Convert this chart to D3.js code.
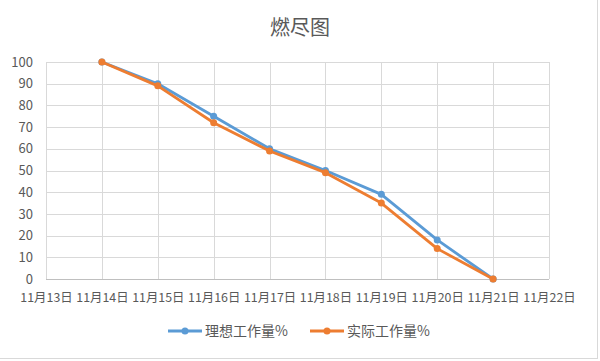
<!DOCTYPE html>
<html><head><meta charset="utf-8">
<script src="https://cdn.jsdelivr.net/npm/d3@7"></script>
<style>body{margin:0;background:#fff;}svg{display:block;}</style>
</head><body>
<svg id="c" width="600" height="361"></svg>
<script>
const title = "燃尽图";
const axisDates = ["11月13日","11月14日","11月15日","11月16日","11月17日","11月18日","11月19日","11月20日","11月21日","11月22日"];
const pointDates = ["11月14日","11月15日","11月16日","11月17日","11月18日","11月19日","11月20日","11月21日"];
const ideal = [100, 90, 75, 60, 50, 39, 18, 0];
const actual = [100, 89, 72, 59, 49, 35, 14, 0];
const yTicks = [0,10,20,30,40,50,60,70,80,90,100];
const seriesNames = ["理想工作量%","实际工作量%"];
const colors = ["#5B9BD5","#ED7D31"];

const svg = d3.select("#c");
const font = "'Noto Sans CJK SC', 'Microsoft YaHei', sans-serif";
const m = {l:46, r:549, t:62, b:279};
const x = d3.scalePoint().domain(axisDates).range([m.l, m.r]);
const y = d3.scaleLinear().domain([0,100]).range([m.b, m.t]);

// outer frame edges
svg.append("line").attr("x1",597.5).attr("x2",597.5).attr("y1",0).attr("y2",359).attr("stroke","#d9d9d9");
svg.append("line").attr("x1",0).attr("x2",598).attr("y1",358.5).attr("y2",358.5).attr("stroke","#d9d9d9");

// title
svg.append("text").attr("x",300).attr("y",35).attr("text-anchor","middle")
  .attr("font-family",font).attr("font-size",20).attr("fill","#595959").text(title);

// horizontal gridlines
const gy = svg.append("g");
yTicks.forEach(t=>{
  if(t===0) return;
  gy.append("line").attr("x1",m.l).attr("x2",m.r).attr("y1",Math.round(y(t))+0.5).attr("y2",Math.round(y(t))+0.5)
    .attr("stroke","#d9d9d9").attr("stroke-width",1);
});
// vertical gridlines
axisDates.forEach(d=>{
  svg.append("line").attr("x1",Math.round(x(d))+0.5).attr("x2",Math.round(x(d))+0.5).attr("y1",m.t).attr("y2",m.b)
    .attr("stroke","#d9d9d9").attr("stroke-width",1);
});
// x axis line
svg.append("line").attr("x1",m.l).attr("x2",m.r).attr("y1",m.b+0.5).attr("y2",m.b+0.5).attr("stroke","#bfbfbf");

// y labels
const yAxis = d3.axisLeft(y).tickValues(yTicks).tickSize(0).tickPadding(0);
const ya = svg.append("g").attr("transform",`translate(${m.l-13},0)`).call(yAxis);
ya.select(".domain").remove();
ya.selectAll("text").attr("font-family",font).attr("font-size",13).attr("fill","#595959").attr("text-anchor","end");

// x labels
const xAxis = d3.axisBottom(x).tickSize(0).tickPadding(0);
const xa = svg.append("g").attr("transform",`translate(0,${m.b+14})`).call(xAxis);
xa.select(".domain").remove();
xa.selectAll("text").attr("font-family",font).attr("font-size",12.4).attr("fill","#595959");

// series
[ideal, actual].forEach((vals,i)=>{
  const pts = vals.map((v,j)=>[x(pointDates[j]), y(v)]);
  svg.append("path").attr("d",d3.line()(pts)).attr("fill","none").attr("stroke",colors[i])
    .attr("stroke-width",2.8).attr("stroke-linejoin","round");
  svg.selectAll(null).data(pts).enter().append("circle").attr("cx",d=>d[0]).attr("cy",d=>d[1])
    .attr("r",3.5).attr("fill",colors[i]);
});

// legend
const leg = [[168,205],[310,347]];
seriesNames.forEach((n,i)=>{
  const [lx,tx] = leg[i];
  svg.append("line").attr("x1",lx).attr("x2",lx+34).attr("y1",331).attr("y2",331).attr("stroke",colors[i]).attr("stroke-width",2.8);
  svg.append("circle").attr("cx",lx+17).attr("cy",331).attr("r",3.5).attr("fill",colors[i]);
  svg.append("text").attr("x",tx).attr("y",336).attr("font-family",font).attr("font-size",14).attr("fill","#595959").text(n);
});
</script>
</body></html>
